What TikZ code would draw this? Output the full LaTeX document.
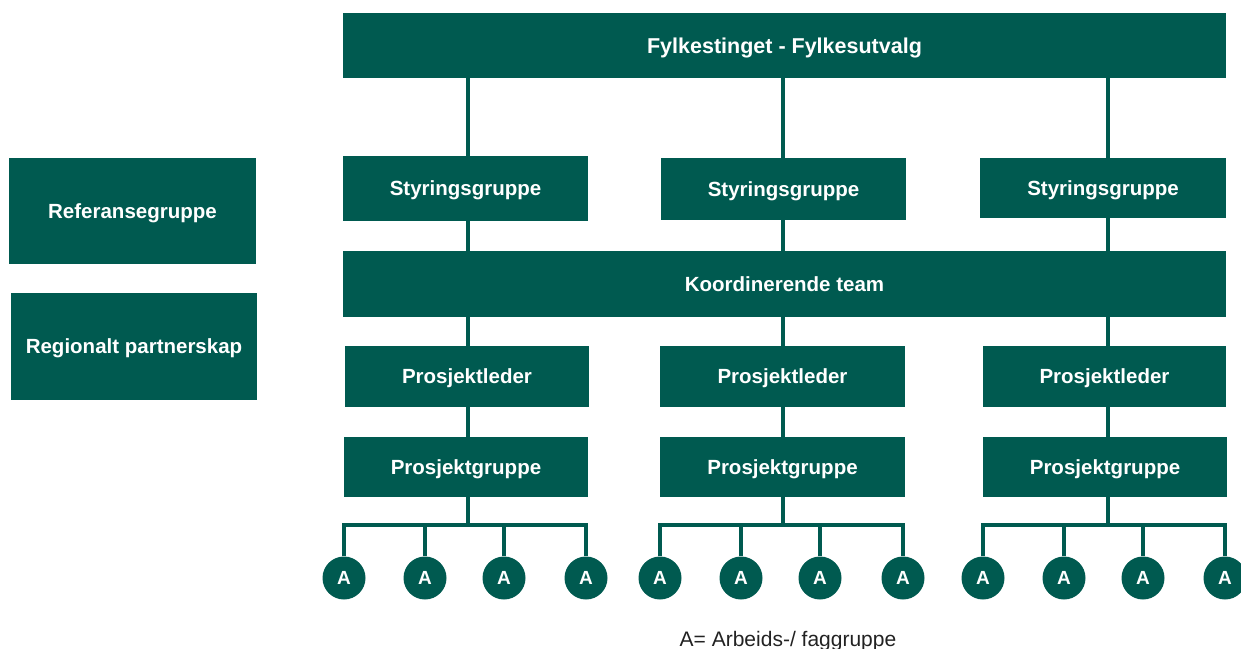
\documentclass[tikz,border=0pt]{standalone}
\usepackage{fontspec}
\setmainfont{Liberation Sans}
\definecolor{teal}{HTML}{005A50}
\definecolor{legendgray}{HTML}{222222}
\begin{document}
\begin{tikzpicture}[x=1pt,y=-1pt,
  box/.style={fill=teal,draw=none,text=white,inner sep=0pt,text depth=0pt,
    font=\fontsize{20.5}{24}\selectfont\bfseries},
  link/.style={draw=teal,line width=3.5pt},
  agroup/.style={circle,fill=teal,draw=none,text=white,minimum size=43pt,inner sep=0pt,
    text depth=0pt,font=\fontsize{19}{22}\selectfont\bfseries}]
\useasboundingbox (0,0) rectangle (1241,648);
\newcommand{\bx}[6]{\node[box,minimum width=#4-#2,minimum height=#5-#3] (#1) at ({(#2+#4)/2},{(#3+#5)/2}) {#6};}
% columns
\coordinate (c1) at (468,0);
\coordinate (c2) at (783,0);
\coordinate (c3) at (1108,0);
% boxes
\bx{top}{343}{13}{1226}{78}{\fontsize{21.5}{24}\selectfont Fylkestinget - Fylkesutvalg}
\bx{s1}{343}{156}{588}{221}{Styringsgruppe}
\bx{s2}{661}{158}{906}{220}{Styringsgruppe}
\bx{s3}{980}{158}{1226}{218}{Styringsgruppe}
\bx{kt}{343}{251}{1226}{317}{Koordinerende team}
\bx{pl1}{345}{346}{589}{407}{Prosjektleder}
\bx{pl2}{660}{346}{905}{407}{Prosjektleder}
\bx{pl3}{983}{346}{1226}{407}{Prosjektleder}
\bx{pg1}{344}{437}{588}{497}{Prosjektgruppe}
\bx{pg2}{660}{437}{905}{497}{Prosjektgruppe}
\bx{pg3}{983}{437}{1227}{497}{Prosjektgruppe}
\bx{ref}{9}{158}{256}{264}{Referansegruppe}
\bx{rp}{11}{293}{257}{400}{Regionalt partnerskap}
% vertical links
\foreach \i in {1,2,3}{
  \draw[link] (top.south -| c\i) -- (s\i.north -| c\i);
  \draw[link] (s\i.south -| c\i) -- (kt.north -| c\i);
  \draw[link] (kt.south -| c\i) -- (pl\i.north -| c\i);
  \draw[link] (pl\i.south -| c\i) -- (pg\i.north -| c\i);
}
% A circles
\foreach \g/\xa/\xb/\xc/\xd in {1/344/425/504/586, 2/660/741/820/903, 3/983/1064/1143/1225}{
  \node[agroup] (a\g-1) at (\xa,578) {A};
  \node[agroup] (a\g-2) at (\xb,578) {A};
  \node[agroup] (a\g-3) at (\xc,578) {A};
  \node[agroup] (a\g-4) at (\xd,578) {A};
  \coordinate (h\g) at (0,525);
  \draw[link] (pg\g.south -| c\g) -- (h\g -| c\g);
  \draw[link] (a\g-1.north) -- (h\g -| a\g-1) -- (h\g -| a\g-4) -- (a\g-4.north);
  \draw[link] (h\g -| a\g-2) -- (a\g-2.north);
  \draw[link] (h\g -| a\g-3) -- (a\g-3.north);
}
\node[anchor=base,text=legendgray,font=\fontsize{21}{24}\selectfont,inner sep=0pt] (legend) at (788,646) {A= Arbeids-/ faggruppe};
\end{tikzpicture}
\end{document}
